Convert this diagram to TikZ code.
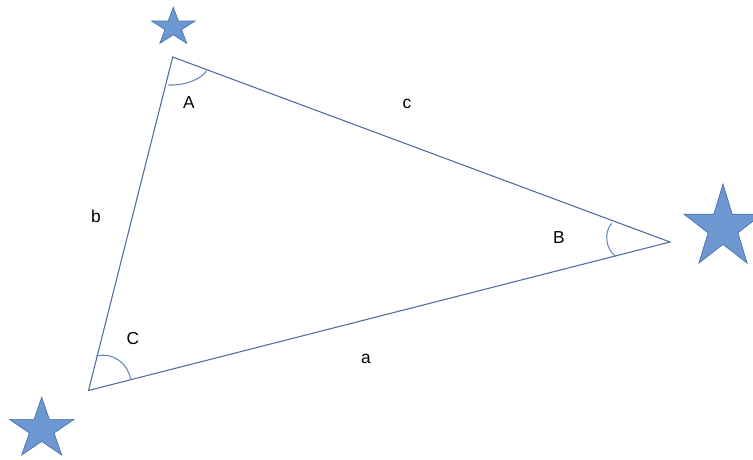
\documentclass[tikz,border=0pt]{standalone}
\usepackage{fontspec}
\setmainfont{Liberation Sans}
\definecolor{starfill}{RGB}{108,151,208}
\definecolor{staredge}{RGB}{72,112,172}
\definecolor{triline}{RGB}{78,108,160}
\definecolor{arcline}{RGB}{100,135,185}
\tikzset{
  starshape/.style={fill=starfill, draw=staredge, line width=0.5pt, line join=miter},
  triedge/.style={draw=triline, line width=0.8pt},
  anglearc/.style={draw=arcline, line width=0.8pt},
  lbl/.style={font=\fontsize{13}{15}\selectfont, text=black, inner sep=0pt}
}
\newcommand{\mystarat}[4]{%
  \begin{scope}[shift={(#1,#2)}, xscale=#3, yscale=-#4]
    \path[starshape] (0,1) -- (-0.2245,0.309) -- (-0.951,0.309) -- (-0.3633,-0.118)
      -- (-0.588,-0.809) -- (0,-0.382) -- (0.588,-0.809) -- (0.3633,-0.118)
      -- (0.951,0.309) -- (0.2245,0.309) -- cycle;
  \end{scope}}
\begin{document}
\begin{tikzpicture}[x=0.75pt,y=-0.75pt]
\useasboundingbox (0,0) rectangle (753,460);
\clip (0,0) rectangle (753,460);
% stars
\mystarat{173.3}{27.2}{22.8}{19.9}
\mystarat{723}{227.7}{41}{43.7}
\mystarat{41.7}{429.2}{34}{31.9}
% triangle
\coordinate (A) at (172.7,57);
\coordinate (B) at (670,242);
\coordinate (C) at (88.5,390.5);
\draw[triedge] (A) -- (B) -- (C) -- cycle;
% angle arcs
\draw[anglearc] (168.3,85) .. controls (185,85.5) and (200,80) .. (206.7,70.7);
\draw[anglearc] (611.7,223.3) .. controls (604,232) and (605,248) .. (615.7,256.7);
\draw[anglearc] (96,356) .. controls (114,352) and (128,364) .. (130.7,379.3);
% labels
\node[lbl] (lA) at (189,103) {A};
\node[lbl] (lc) at (407,104) {c};
\node[lbl] (lb) at (96,216) {b};
\node[lbl] (lB) at (559,238) {B};
\node[lbl] (lC) at (133,339) {C};
\node[lbl] (la) at (366,359) {a};
\end{tikzpicture}
\end{document}
